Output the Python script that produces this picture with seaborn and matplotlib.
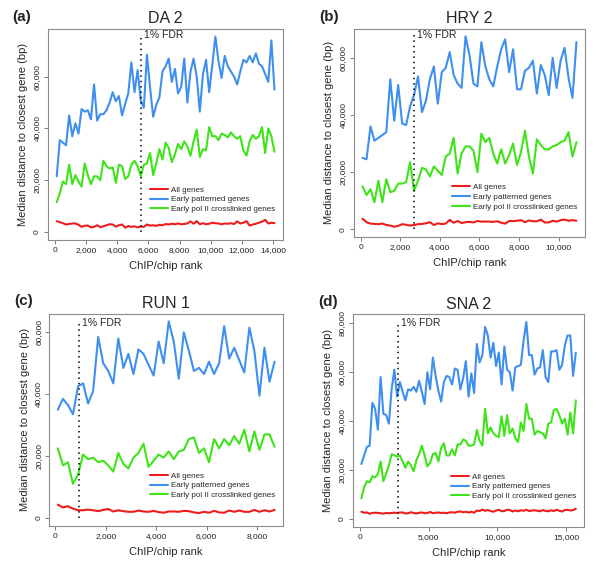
"""
Median distance to closest gene vs ChIP/chip rank - four factor panels
"""

import matplotlib
matplotlib.use("Agg")
import matplotlib.pyplot as plt
import seaborn as sns
import numpy as np
import pandas as pd
from matplotlib.ticker import FuncFormatter

sns.set_style("white")
plt.rcParams['font.family'] = ['Liberation Sans', 'DejaVu Sans']

SERIES = ['All genes', 'Early patterned genes', 'Early pol II crosslinked genes']
COLORS = {'All genes': '#ee1c1c',
          'Early patterned genes': '#3f8ff0',
          'Early pol II crosslinked genes': '#3fe31a'}
RANK_START = 100
RANK_STEP = 200

# ---- DA 2 ----
da2_all = [4200, 3800, 3400, 2900, 3100, 3300, 3300, 2800, 2000, 2400,
           2500, 1800, 2000, 2600, 1900, 2200, 2600, 3000, 2900, 2100,
           2600, 2900, 1700, 2300, 2000, 2200, 1800, 2100, 2000, 2900,
           2500, 2600, 2400, 2800, 2600, 3100, 2900, 3200, 3000, 3300,
           3000, 3100, 3300, 4100, 3200, 4200, 3000, 3400, 3000, 3200,
           3600, 3400, 3300, 3000, 3300, 3200, 3400, 3100, 4100, 3300,
           3600, 4200, 2500, 2900, 3200, 3600, 4000, 4700, 3300, 3600, 3400]
da2_patterned = [21.5, 35.5, 34.5, 33.5, 45, 37, 42, 38, 47.5, 46.5,
                 47, 43.5, 57, 43, 45.5, 45.5, 47, 50, 54, 50.5,
                 52.5, 45, 49.5, 53.5, 65.5, 54, 62.5, 51, 48, 68.5,
                 56, 44.5, 49, 52, 62, 64, 67, 58, 63, 53.5,
                 56, 67, 50, 62, 67, 60, 46.5, 61, 66.5, 54,
                 64.5, 75.5, 66, 59.5, 68, 64, 62, 60, 57, 62,
                 66.5, 65.5, 68, 65.5, 69, 65, 64, 61, 58, 74, 55]
da2_polii = [11.5, 15, 19.5, 18.5, 26, 18.5, 22, 19.5, 17.5, 26.5,
             22, 18.5, 21.5, 21.5, 20, 27.5, 25.5, 24.5, 25, 19,
             26, 25.5, 20.5, 21.5, 26, 27.5, 25.5, 21.5, 26, 26.5,
             30.5, 22, 26.5, 32, 28, 34.5, 32.5, 27, 30, 34,
             32, 35, 33, 29.5, 35, 39.5, 29, 32, 31.5, 40.5,
             37, 37, 35.5, 38, 37.5, 36.5, 38.5, 37, 36, 37,
             31.5, 29.5, 35, 37.5, 36, 37, 40.5, 30.5, 40, 37, 31]

# ---- HRY 2 ----
hry2_all = [3700, 2500, 2000, 1900, 1800, 2000, 1500, 1300, 900, 1200,
            1800, 1600, 1300, 1500, 1800, 1900, 2100, 2500, 1500, 2100,
            1800, 2000, 3300, 2300, 2900, 2200, 2500, 2600, 2400, 2900,
            2700, 2700, 2700, 2600, 2800, 2300, 2000, 2900, 2900, 3000,
            3200, 2500, 3100, 2800, 2800, 3400, 2400, 2400, 3000, 2700,
            3200, 3400, 3000, 3200, 3000]
hry2_patterned = [25, 24.5, 36, 31, 32, 33, 34, 52.5, 38, 50.5,
                  37, 36.5, 43, 47, 53.5, 41, 45, 52.5, 57, 44,
                  55, 56.5, 62, 54, 51, 49.5, 67.5, 61, 51, 50,
                  65.5, 57, 52.5, 50, 57, 63, 66.5, 55, 63, 49,
                  49, 55.5, 56.5, 59, 47.5, 57.5, 54, 47, 60, 49.5,
                  59, 63.5, 53, 46, 65.5]
hry2_polii = [15, 12, 14, 9.5, 17, 9.5, 17.5, 13, 13.5, 16,
              16, 16.5, 23.5, 13.5, 17, 21.5, 21, 18.5, 22, 20.5,
              19, 25.5, 26.5, 32, 19.5, 26.5, 29, 29, 27.5, 20,
              33.5, 30.5, 32, 26.5, 23, 28, 23, 26, 30, 22.5,
              27, 34.5, 25.5, 19.5, 31.5, 29.5, 28, 28, 29, 29.5,
              30.5, 31, 34, 25.5, 30.5]

# ---- RUN 1 ----
run1_all = [4300, 3400, 3800, 3000, 2500, 2500, 2700, 2500, 2200, 2600,
            2900, 2100, 2500, 2200, 2000, 2000, 2400, 2100, 2000, 2300,
            1900, 1700, 2100, 2100, 2000, 2300, 2200, 1800, 1600, 2000,
            1700, 2300, 1800, 1700, 2400, 2000, 2400, 2000, 2000, 2600,
            2000, 2500, 2100, 2600]
run1_patterned = [35, 38.5, 36.5, 33.5, 42.5, 43.5, 37, 41, 58.5, 50,
                  47.5, 43.5, 58, 48.5, 53, 46.5, 54.5, 53, 49.5, 46,
                  57, 50, 63.5, 57, 45, 60, 54, 47.5, 48.5, 46.5,
                  50.5, 46.5, 50, 62, 51.5, 55, 51, 47, 61.5, 54,
                  39.5, 55, 44, 50.5]
run1_polii = [22.5, 17, 18, 11, 14, 20.5, 19, 19.5, 18, 18.5,
              17, 15, 21, 17.5, 16, 19.5, 21, 24, 16.5, 18.5,
              20.5, 19.5, 21.5, 19, 21.5, 22, 25.5, 26, 21, 22.5,
              18, 25.5, 22.5, 25.5, 23.5, 26.5, 24, 28.5, 21.5, 28,
              22, 27, 27, 23]

# ---- SNA 2 ----
sna2_all = [3000, 2600, 2700, 2200, 2500, 2600, 2500, 2400, 2200, 2500,
            2400, 2500, 2600, 2500, 2700, 2700, 2300, 2400, 2800, 2500,
            2300, 2600, 2700, 2400, 2500, 2900, 2400, 2600, 2700, 2500,
            2600, 2400, 2700, 2800, 2600, 3000, 3100, 2800, 3000, 2700,
            3000, 2600, 3500, 3300, 3900, 3400, 3700, 3300, 3000, 3500,
            3800, 3200, 3300, 3800, 3700, 3100, 3500, 3200, 3600, 3400,
            3800, 3300, 3500, 3600, 3400, 3200, 3700, 3300, 3200, 3600,
            3300, 3800, 3400, 3100, 3700, 3800, 3500, 3700, 4200]
sna2_patterned = [22.5, 26, 29.5, 30, 47.5, 45, 36.5, 58, 43, 42.5,
                  39, 53, 61, 50, 56, 52, 48.5, 53, 52.5, 54,
                  52, 56.5, 52, 47, 60, 53, 66, 58.5, 52.5, 48,
                  56, 58.5, 58, 55, 61.5, 61, 53, 57.5, 64.5, 50,
                  59.5, 51.5, 71.5, 64, 67, 78.5, 75, 66, 72, 62.5,
                  68, 55, 70.5, 61, 60, 52.5, 62, 62.5, 63, 73,
                  80.5, 67, 67, 59, 61.5, 62, 69, 58, 56, 68.5,
                  68.5, 69, 61, 63, 71, 75, 75, 58.5, 68]
sna2_polii = [8.5, 13, 15.5, 15, 17.5, 17, 18.5, 23.5, 15.5, 18.5,
              22, 26.5, 26, 25.5, 26, 23.5, 21, 23.5, 22, 19.5,
              24, 26.5, 30, 26, 21.5, 23, 26.5, 27, 23.5, 29,
              31, 26, 26, 28.5, 26, 30.5, 30.5, 32.5, 32, 30,
              30, 30.5, 36.5, 32, 30, 45, 35, 37.5, 35, 34,
              33.5, 42, 34, 42.5, 35, 37, 33, 31.5, 39.5, 36,
              47, 41, 41, 34.5, 36, 35.5, 35, 33, 39, 39.5,
              44.5, 45, 42.5, 39, 41, 34.5, 43.5, 35, 48.5]

PANELS = [
    # letter, title, all, patterned(k), polII(k), fdr rank, fdr top(k), x ticks, y ticks, axes rect
    ('(a)', 'DA 2', da2_all, da2_patterned, da2_polii, 5500, 76,
     [0, 2000, 4000, 6000, 8000, 10000, 12000, 14000], [0, 20000, 40000, 60000],
     [0.080, 0.574, 0.392, 0.375]),
    ('(b)', 'HRY 2', hry2_all, hry2_patterned, hry2_polii, 2700, 68,
     [0, 2000, 4000, 6000, 8000, 10000], [0, 20000, 40000, 60000],
     [0.590, 0.579, 0.385, 0.370]),
    ('(c)', 'RUN 1', run1_all, run1_patterned, run1_polii, 920, 63,
     [0, 2000, 4000, 6000, 8000], [0, 20000, 40000, 60000],
     [0.082, 0.066, 0.390, 0.377]),
    ('(d)', 'SNA 2', sna2_all, sna2_patterned, sna2_polii, 2750, 80,
     [0, 5000, 10000, 15000], [0, 20000, 40000, 60000, 80000],
     [0.588, 0.064, 0.386, 0.378]),
]

comma = FuncFormatter(lambda v, p: f'{int(v):,}')

fig = plt.figure(figsize=(6.0, 5.63), dpi=100)

for letter, title, all_g, patt, pol, fdr, fdr_top, xt, yt, rect in PANELS:
    n = len(all_g)
    rank = RANK_START + RANK_STEP * np.arange(n)
    df = pd.DataFrame({
        'rank': np.concatenate([rank, rank, rank]),
        'dist': np.concatenate([np.array(all_g, float),
                                np.array(patt, float) * 1000,
                                np.array(pol, float) * 1000]),
        'set': [SERIES[0]] * n + [SERIES[1]] * n + [SERIES[2]] * n,
    })
    ax = fig.add_axes(rect)
    sns.lineplot(data=df, x='rank', y='dist', hue='set', hue_order=SERIES,
                 palette=COLORS, linewidth=1.5, ax=ax, legend=False)

    # R-style 4% padding
    xr = rank[-1] - rank[0]
    ax.set_xlim(rank[0] - 0.04 * xr, rank[-1] + 0.04 * xr)
    ymax = df['dist'].max()
    ax.set_ylim(-0.04 * ymax, 1.04 * ymax)

    ax.plot([fdr, fdr], [0, fdr_top * 1000], color='black', linestyle=(0, (1, 2.5)),
            linewidth=1.1)
    ax.text(fdr + 0.015 * xr, fdr_top * 1000, '1% FDR', fontsize=7.5,
            ha='left', va='center')

    ax.set_xticks(xt)
    ax.set_yticks(yt)
    ax.xaxis.set_major_formatter(comma)
    ax.yaxis.set_major_formatter(comma)
    ax.tick_params(axis='both', labelsize=6, direction='out',
                   length=3, width=0.6, left=True, bottom=True, pad=2)
    for lab in ax.get_yticklabels():
        lab.set_rotation(90)
        lab.set_va('center')
    ax.tick_params(axis='x', colors='#666666', labelcolor='#222222')
    ax.tick_params(axis='y', colors='#666666', labelcolor='#222222')
    for sp in ax.spines.values():
        sp.set_color('#8c8c8c')
        sp.set_linewidth(0.8)

    ax.set_xlabel('ChIP/chip rank', fontsize=8, labelpad=5)
    ax.set_ylabel('Median distance to closest gene (bp)', fontsize=8, labelpad=4)
    ax.set_title(title, fontsize=11.5, pad=4)
    ax.text(-0.15, 1.057, letter, transform=ax.transAxes, fontsize=11,
            fontweight='bold', ha='left', va='center')

    handles = [plt.Line2D([], [], color=COLORS[s], linewidth=1.5) for s in SERIES]
    ax.legend(handles, SERIES, loc='lower right', bbox_to_anchor=(0.99, 0.1),
              frameon=False, fontsize=5.8, handlelength=2.2, handletextpad=0.4,
              labelspacing=0.25, borderpad=0.2)

plt.savefig('out.png', dpi=100)
plt.close()
